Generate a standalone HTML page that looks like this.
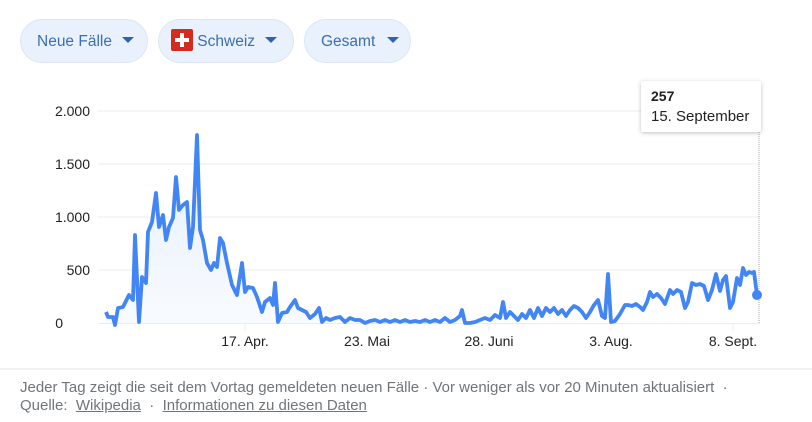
<!DOCTYPE html>
<html><head><meta charset="utf-8"><style>
body{margin:0;width:812px;height:422px;background:#fff;font-family:"Liberation Sans",sans-serif;overflow:hidden;position:relative}
.btn{position:absolute;top:19px;height:44px;border:1px solid #dbe6f5;background:#e9f1fc;border-radius:22px;color:#3b6fae;font-size:15.5px;line-height:44px;box-sizing:border-box}
.tri{display:inline-block;width:0;height:0;border-left:6px solid transparent;border-right:6px solid transparent;border-top:6px solid #2d64b0;vertical-align:middle;margin-left:10px;margin-top:-3px}
.foot{position:absolute;left:20px;color:#70757a;font-size:15px}
.foot u{color:#70757a}
</style></head><body>
<div class="btn" style="left:20px;width:128px;padding-left:16px">Neue Fälle<span class="tri" style="margin-left:10px"></span></div>
<div class="btn" style="left:158px;width:136px;padding-left:12px"><span style="display:inline-block;width:22px;height:22px;background:#d52b1e;vertical-align:middle;margin-top:-3px;position:relative;border-radius:2px"><span style="position:absolute;left:9px;top:4px;width:4px;height:14px;background:#fff"></span><span style="position:absolute;left:4px;top:9px;width:14px;height:4px;background:#fff"></span></span> Schweiz<span class="tri"></span></div>
<div class="btn" style="left:304px;width:107px;padding-left:16px">Gesamt<span class="tri" style="margin-left:12px"></span></div>
<svg width="812" height="422" style="position:absolute;left:0;top:0">
<defs><linearGradient id="g" x1="0" y1="0" x2="0" y2="1"><stop offset="0" stop-color="#e6effc"/><stop offset="1" stop-color="#f8fbff"/></linearGradient></defs>
<g stroke="#ececec" stroke-width="1">
<line x1="98" y1="111" x2="760" y2="111"/><line x1="98" y1="164" x2="760" y2="164"/><line x1="98" y1="217" x2="760" y2="217"/><line x1="98" y1="270" x2="760" y2="270"/><line x1="98" y1="323.5" x2="760" y2="323.5"/>
<line x1="245" y1="323" x2="245" y2="331"/><line x1="367" y1="323" x2="367" y2="331"/><line x1="489" y1="323" x2="489" y2="331"/><line x1="611" y1="323" x2="611" y2="331"/><line x1="733" y1="323" x2="733" y2="331"/>
<line x1="0" y1="369" x2="812" y2="369" stroke="#e4e4e4"/>
</g>
<g font-size="14" fill="#222" text-anchor="end">
<text x="90" y="116">2.000</text><text x="90" y="169">1.500</text><text x="90" y="222">1.000</text><text x="90" y="275">500</text><text x="63" y="328">0</text>
</g>
<g font-size="14" fill="#222" text-anchor="middle">
<text x="245" y="346">17. Apr.</text><text x="367" y="346">23. Mai</text><text x="489" y="346">28. Juni</text><text x="611" y="346">3. Aug.</text><text x="733" y="346">8. Sept.</text>
</g>
<line x1="759" y1="132" x2="759" y2="323" stroke="#aaa" stroke-dasharray="1,1"/>
<polygon fill="url(#g)" points="106,323 106,312 108,317 113,317 115,325 118,308 123,307 129,295 133,300 135,235 139,322 142,277 146,283 148,232 152,222 156,193 159,227 163,215 166,240 169,227 173,218 176,177 179,210 183,205 187,202 190,248 193,227 197,135 200,230 203,240 207,263 211,270 214,263 217,267 220,238 223,243 227,263 232,285 237,295 242,263 245,292 248,287 253,288 257,297 262,312 265,302 270,298 273,305 275,283 278,322 282,313 287,312 290,307 295,300 298,308 302,310 306,312 310,318 315,314 319,308 322,323 757,323"/>
<polyline fill="none" stroke="#4285f4" stroke-width="3.8" stroke-linejoin="round" points="106,312 108,317 113,317 115,325 118,308 123,307 129,295 133,300 135,235 139,322 142,277 146,283 148,232 152,222 156,193 159,227 163,215 166,240 169,227 173,218 176,177 179,210 183,205 187,202 190,248 193,227 197,135 200,230 203,240 207,263 211,270 214,263 217,267 220,238 223,243 227,263 232,285 237,295 242,263 245,292 248,287 253,288 257,297 262,312 265,302 270,298 273,305 275,283 278,322 282,313 287,312 290,307 295,300 298,308 302,310 306,312 310,318 315,314 319,308 322,322 326,318 330,320 335,318 340,317 345,322 350,318 355,320 360,320 365,323 370,321 375,320 380,322 385,320 390,322 395,320 400,322 405,320 410,322 415,321 420,322 425,320 430,322 435,320 440,322 445,318 450,322 455,320 460,316 462,310 465,323 470,323 475,322 480,320 485,318 490,320 495,315 500,318 503,302 506,318 510,312 514,316 518,320 522,314 526,318 530,310 534,318 538,308 542,316 546,308 550,312 554,308 558,314 562,310 566,316 570,310 574,306 578,308 582,312 586,318 590,312 594,305 598,300 602,316 605,318 608,274 611,322 615,321 620,314 625,305 628,305 632,306 636,304 640,307 643,310 647,302 650,292 653,297 657,294 661,298 665,304 670,290 673,294 677,290 681,292 685,308 688,302 692,283 696,285 700,284 704,286 708,300 712,290 716,274 720,291 723,280 726,276 730,308 733,302 737,278 740,285 743,268 746,275 749,272 752,273 754,272 757,295"/>
<circle cx="757" cy="295" r="5" fill="#4285f4"/>
</svg>
<div style="position:absolute;left:641px;top:81px;width:120px;height:51px;background:#fff;box-shadow:0 1px 4px rgba(0,0,0,.25);border-radius:2px;font-size:15px;color:#222;box-sizing:border-box;padding:7px 10px">
<div style="font-weight:bold;font-size:14px">257</div><div style="margin-top:4px">15. September</div></div>
<div class="foot" style="top:379px">Jeder Tag zeigt die seit dem Vortag gemeldeten neuen Fälle · Vor weniger als vor 20 Minuten aktualisiert &nbsp;·</div>
<div class="foot" style="top:397px">Quelle: &nbsp;<u>Wikipedia</u> &nbsp;· &nbsp;<u>Informationen zu diesen Daten</u></div>
</body></html>
